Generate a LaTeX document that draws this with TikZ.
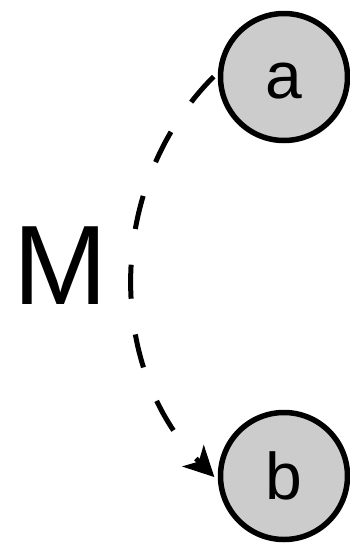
\documentclass[tikz,border=0pt]{standalone}
\usepackage{fontspec}
\setmainfont{Liberation Sans}
\usetikzlibrary{arrows.meta}
\begin{document}
\begin{tikzpicture}[x=1pt,y=-1pt,
  statenode/.style={circle,draw=black,fill={rgb,255:red,204;green,204;blue,204},line width=5.5pt,minimum size=127pt,inner sep=0pt,font=\fontsize{66}{70}\selectfont},
  dashedarrow/.style={line width=5pt,dash pattern=on 34pt off 36pt,-{Stealth[length=30pt,width=30pt,inset=8pt]},shorten <=6pt,shorten >=5pt}]
\useasboundingbox (0,0) rectangle (349,547);
\node[statenode,text height=42pt,text depth=0pt] (a) at (284,77) {a};
\node[statenode] (b) at (284,476) {b};
\node[anchor=base,inner sep=0pt,font=\fontsize{113}{118}\selectfont] (m) at (60.5,304) {M};
\draw[dashedarrow] (a.176) to[out=225,in=135] (b.184);
\end{tikzpicture}
\end{document}
